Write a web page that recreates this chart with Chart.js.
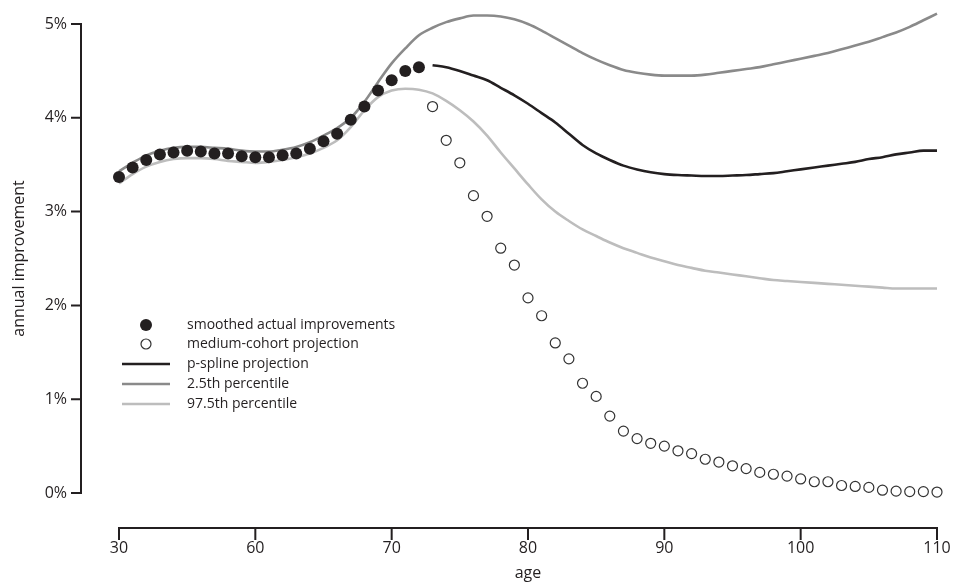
<!DOCTYPE html>
<html><head><meta charset="utf-8">
<script src="https://cdn.jsdelivr.net/npm/chart.js@4/dist/chart.umd.min.js"></script>
<style>html,body{margin:0;padding:0;background:#fff}</style>
</head><body>
<canvas id="c" width="973" height="583"></canvas>
<script>
// ---- data ----
const smoothedAges = [50,51,52,53,54,55,56,57,58,59,60,61,62,63,64,65,66,67,68,69,70,71,72];
const smoothedActual = [3.37,3.47,3.55,3.61,3.63,3.65,3.64,3.62,3.62,3.59,3.58,3.58,3.60,3.62,3.67,3.75,3.83,3.98,4.12,4.29,4.40,4.50,4.54];

const cohortAges = [73,74,75,76,77,78,79,80,81,82,83,84,85,86,87,88,89,90,91,92,93,94,95,96,97,98,99,100,101,102,103,104,105,106,107,108,109,110];
const cohortProjection = [4.12,3.76,3.52,3.17,2.95,2.61,2.43,2.08,1.89,1.60,1.43,1.17,1.03,0.82,0.66,0.58,0.53,0.50,0.45,0.42,0.36,0.33,0.29,0.26,0.22,0.20,0.18,0.15,0.12,0.12,0.08,0.07,0.06,0.03,0.02,0.015,0.015,0.01];

const psplineAges = [73,74,75,76,77,78,79,80,81,82,83,84,85,86,87,88,89,90,91,92,93,94,95,96,97,98,99,100,101,102,103,104,105,106,107,108,109,110];
const psplineProjection = [4.56,4.54,4.50,4.45,4.40,4.32,4.24,4.15,4.05,3.95,3.83,3.71,3.62,3.55,3.49,3.45,3.42,3.40,3.39,3.385,3.38,3.38,3.385,3.39,3.40,3.41,3.43,3.45,3.47,3.49,3.51,3.53,3.56,3.58,3.61,3.63,3.65,3.65];

const bandAges = [50,51,52,53,54,55,56,57,58,59,60,61,62,63,64,65,66,67,68,69,70,71,72,73,74,75,76,77,78,79,80,81,82,83,84,85,86,87,88,89,90,91,92,93,94,95,96,97,98,99,100,101,102,103,104,105,106,107,108,109,110];
const pct025 = [3.43,3.52,3.60,3.65,3.68,3.69,3.69,3.68,3.67,3.65,3.64,3.64,3.66,3.69,3.74,3.81,3.89,4.00,4.17,4.38,4.58,4.74,4.88,4.96,5.02,5.06,5.09,5.09,5.08,5.05,5.00,4.93,4.85,4.77,4.69,4.62,4.56,4.51,4.48,4.46,4.45,4.45,4.45,4.46,4.48,4.50,4.52,4.54,4.57,4.60,4.63,4.66,4.69,4.73,4.77,4.81,4.86,4.91,4.97,5.04,5.11];
const pct975 = [3.30,3.40,3.48,3.53,3.56,3.57,3.57,3.56,3.54,3.53,3.52,3.53,3.55,3.58,3.62,3.68,3.76,3.90,4.08,4.22,4.29,4.31,4.30,4.26,4.18,4.08,3.96,3.81,3.63,3.46,3.29,3.13,3.00,2.90,2.81,2.74,2.67,2.61,2.56,2.51,2.47,2.43,2.40,2.37,2.35,2.33,2.31,2.29,2.27,2.26,2.25,2.24,2.23,2.22,2.21,2.20,2.19,2.18,2.18,2.18,2.18];

const xTickValues = [50,60,70,80,90,100,110];
const xTickLabels = ['30','60','70','80','90','100','110'];
const yTickValues = [0,1,2,3,4,5];
const yTickLabels = ['0%','1%','2%','3%','4%','5%'];
const seriesNames = ['smoothed actual improvements','medium-cohort projection','p-spline projection','2.5th percentile','97.5th percentile'];
const xTitle = 'age';
const yTitle = 'annual improvement';

// ---- styling / layout ----
const INK = '#231f20';
const FONT = "'Open Sans', sans-serif";
const X_LO = 47.213, X_HI = 110;     // axis range (left of 50 leaves room for the detached y axis)
const Y_LO = -0.373, Y_HI = 5;       // below 0 leaves room for the detached x axis
const toPts = (xs, ys) => xs.map((a, i) => ({x: a, y: ys[i]}));

const detachedAxes = {
  id: 'detachedAxes',
  afterDraw(chart) {
    const {ctx, chartArea, scales: {x, y}} = chart;
    ctx.save();
    ctx.strokeStyle = INK;
    ctx.lineWidth = 2;
    const ax = chartArea.left;
    const yT = y.getPixelForValue(yTickValues[yTickValues.length - 1]);
    const yB = y.getPixelForValue(yTickValues[0]);
    ctx.beginPath();
    ctx.moveTo(ax, yT - 1); ctx.lineTo(ax, yB + 1);
    yTickValues.forEach(v => { const py = y.getPixelForValue(v); ctx.moveTo(ax - 10, py); ctx.lineTo(ax, py); });
    ctx.stroke();
    const ay = chartArea.bottom;
    const xL = x.getPixelForValue(xTickValues[0]);
    const xR = x.getPixelForValue(xTickValues[xTickValues.length - 1]);
    ctx.beginPath();
    ctx.moveTo(xL - 1, ay); ctx.lineTo(xR + 1, ay);
    xTickValues.forEach(v => { const px = x.getPixelForValue(v); ctx.moveTo(px, ay); ctx.lineTo(px, ay + 12); });
    ctx.stroke();
    ctx.fillStyle = INK;
    ctx.font = "16px " + FONT;
    ctx.textAlign = 'center';
    ctx.textBaseline = 'middle';
    ctx.fillText(xTitle, (xL + xR) / 2, 573);
    ctx.translate(19, (yT + yB) / 2);
    ctx.rotate(-Math.PI / 2);
    ctx.fillText(yTitle, 0, 0);
    ctx.restore();
  }
};

const insetLegend = {
  id: 'insetLegend',
  afterDraw(chart) {
    const {ctx} = chart;
    const ds = chart.data.datasets;
    const mx = 146, x0 = 122, x1 = 170, tx = 187;
    const rows = [325, 344, 364, 384, 404];
    ctx.save();
    ctx.font = "14px " + FONT;
    ctx.textBaseline = 'middle';
    ds.forEach((d, i) => {
      const ry = rows[i];
      if (d.showLine === false) {
        ctx.beginPath();
        ctx.arc(mx, ry, d.pointRadius, 0, Math.PI * 2);
        ctx.fillStyle = d.pointBackgroundColor; ctx.fill();
        if (d.pointBorderWidth) { ctx.lineWidth = d.pointBorderWidth; ctx.strokeStyle = d.pointBorderColor; ctx.stroke(); }
      } else {
        ctx.beginPath();
        ctx.moveTo(x0, ry); ctx.lineTo(x1, ry);
        ctx.lineWidth = d.borderWidth; ctx.strokeStyle = d.borderColor; ctx.stroke();
      }
      ctx.fillStyle = INK;
      ctx.fillText(d.label, tx, ry);
    });
    ctx.restore();
  }
};

new Chart(document.getElementById('c'), {
  type: 'line',
  data: {
    datasets: [
      {label: seriesNames[0], data: toPts(smoothedAges, smoothedActual), showLine: false, clip: false,
       pointRadius: 6, pointBackgroundColor: INK, pointBorderColor: INK, pointBorderWidth: 0},
      {label: seriesNames[1], data: toPts(cohortAges, cohortProjection), showLine: false, clip: false,
       pointRadius: 5, pointBackgroundColor: '#ffffff', pointBorderColor: '#333333', pointBorderWidth: 1.2},
      {label: seriesNames[2], data: toPts(psplineAges, psplineProjection), borderColor: INK, clip: false,
       borderWidth: 2.6, pointRadius: 0, cubicInterpolationMode: 'monotone', fill: false},
      {label: seriesNames[3], data: toPts(bandAges, pct025), borderColor: '#8a8a8a', clip: false,
       borderWidth: 2.6, pointRadius: 0, cubicInterpolationMode: 'monotone', fill: false},
      {label: seriesNames[4], data: toPts(bandAges, pct975), borderColor: '#bdbdbd', clip: false,
       borderWidth: 2.6, pointRadius: 0, cubicInterpolationMode: 'monotone', fill: false}
    ]
  },
  options: {
    responsive: false,
    animation: false,
    layout: {padding: {top: 24, right: 36, left: 0, bottom: 0}},
    plugins: {legend: {display: false}, tooltip: {enabled: false}},
    scales: {
      x: {
        type: 'linear', min: X_LO, max: X_HI,
        afterBuildTicks: s => { s.ticks = xTickValues.map(v => ({value: v})); },
        afterFit: s => { s.height = 55; },
        grid: {display: false, drawTicks: false},
        border: {display: false},
        ticks: {autoSkip: false, maxRotation: 0, padding: 11, color: INK,
                font: {family: FONT, size: 16},
                callback: (v, i) => xTickLabels[i]},
        title: {display: false}
      },
      y: {
        type: 'linear', min: Y_LO, max: Y_HI,
        afterBuildTicks: s => { s.ticks = yTickValues.map(v => ({value: v})); },
        afterFit: s => { s.width = 81; },
        grid: {display: false, drawTicks: false},
        border: {display: false},
        ticks: {padding: 14, color: INK, font: {family: FONT, size: 16},
                callback: (v, i) => yTickLabels[i]},
        title: {display: false}
      }
    }
  },
  plugins: [detachedAxes, insetLegend]
});
</script>
</body></html>
